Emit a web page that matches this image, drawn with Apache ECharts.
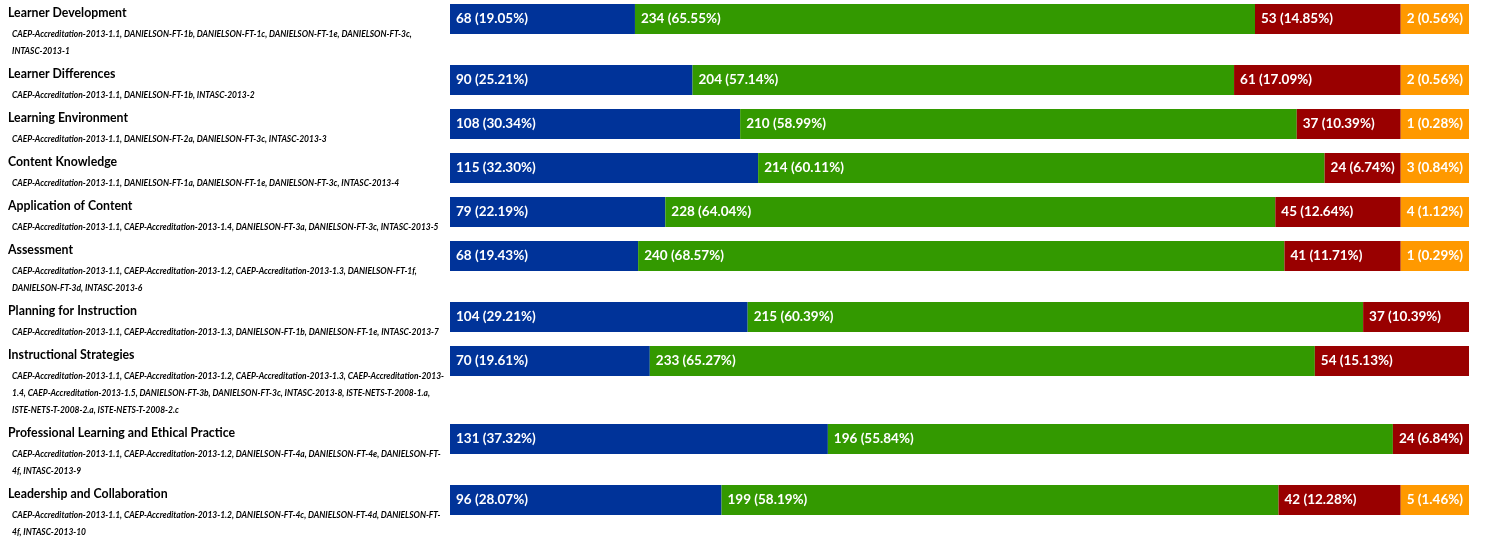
<!DOCTYPE html>
<html>
<head>
<meta charset="utf-8">
<script src="https://cdn.jsdelivr.net/npm/echarts@6/dist/echarts.min.js"></script>
<style>
html,body{margin:0;padding:0;background:#fff;}
#chart{width:1485px;height:537px;}
</style>
</head>
<body>
<div id="chart"></div>
<script>
// ---------- data ----------
const categories = [
  "Learner Development",
  "Learner Differences",
  "Learning Environment",
  "Content Knowledge",
  "Application of Content",
  "Assessment",
  "Planning for Instruction",
  "Instructional Strategies",
  "Professional Learning and Ethical Practice",
  "Leadership and Collaboration"
];
const standards = [
  "CAEP-Accreditation-2013-1.1, DANIELSON-FT-1b, DANIELSON-FT-1c, DANIELSON-FT-1e, DANIELSON-FT-3c,\nINTASC-2013-1",
  "CAEP-Accreditation-2013-1.1, DANIELSON-FT-1b, INTASC-2013-2",
  "CAEP-Accreditation-2013-1.1, DANIELSON-FT-2a, DANIELSON-FT-3c, INTASC-2013-3",
  "CAEP-Accreditation-2013-1.1, DANIELSON-FT-1a, DANIELSON-FT-1e, DANIELSON-FT-3c, INTASC-2013-4",
  "CAEP-Accreditation-2013-1.1, CAEP-Accreditation-2013-1.4, DANIELSON-FT-3a, DANIELSON-FT-3c, INTASC-2013-5",
  "CAEP-Accreditation-2013-1.1, CAEP-Accreditation-2013-1.2, CAEP-Accreditation-2013-1.3, DANIELSON-FT-1f,\nDANIELSON-FT-3d, INTASC-2013-6",
  "CAEP-Accreditation-2013-1.1, CAEP-Accreditation-2013-1.3, DANIELSON-FT-1b, DANIELSON-FT-1e, INTASC-2013-7",
  "CAEP-Accreditation-2013-1.1, CAEP-Accreditation-2013-1.2, CAEP-Accreditation-2013-1.3, CAEP-Accreditation-2013-\n1.4, CAEP-Accreditation-2013-1.5, DANIELSON-FT-3b, DANIELSON-FT-3c, INTASC-2013-8, ISTE-NETS-T-2008-1.a,\nISTE-NETS-T-2008-2.a, ISTE-NETS-T-2008-2.c",
  "CAEP-Accreditation-2013-1.1, CAEP-Accreditation-2013-1.2, DANIELSON-FT-4a, DANIELSON-FT-4e, DANIELSON-FT-\n4f, INTASC-2013-9",
  "CAEP-Accreditation-2013-1.1, CAEP-Accreditation-2013-1.2, DANIELSON-FT-4c, DANIELSON-FT-4d, DANIELSON-FT-\n4f, INTASC-2013-10"
];
const level1Counts = [68, 90, 108, 115, 79, 68, 104, 70, 131, 96];
const level1Pct    = [19.05, 25.21, 30.34, 32.30, 22.19, 19.43, 29.21, 19.61, 37.32, 28.07];
const level2Counts = [234, 204, 210, 214, 228, 240, 215, 233, 196, 199];
const level2Pct    = [65.55, 57.14, 58.99, 60.11, 64.04, 68.57, 60.39, 65.27, 55.84, 58.19];
const level3Counts = [53, 61, 37, 24, 45, 41, 37, 54, 24, 42];
const level3Pct    = [14.85, 17.09, 10.39, 6.74, 12.64, 11.71, 10.39, 15.13, 6.84, 12.28];
const level4Counts = [2, 2, 1, 3, 4, 1, null, null, null, 5];
const level4Pct    = [0.56, 0.56, 0.28, 0.84, 1.12, 0.29, null, null, null, 1.46];
const seriesNames  = ["Level 1", "Level 2", "Level 3", "Level 4"];

// ---------- styling / layout ----------
const colors = ["#003399", "#339900", "#990000", "#ff9900"];
const BAR_LEFT = 450, BAR_W = 1019, BAR_H = 30, FIRST_TOP = 4, ROW_BASE = 44, LINE_H = 17;
const LABEL_FONT_SIZE = 13.5, LABEL_PAD = 6;
const FONT = 'Lato, "DejaVu Sans", sans-serif';

const counts = [level1Counts, level2Counts, level3Counts, level4Counts];
const pcts = [level1Pct, level2Pct, level3Pct, level4Pct];

function labelText(c, p) { return c + ' (' + p.toFixed(2) + '%)'; }

const mctx = document.createElement('canvas').getContext('2d');
mctx.font = 'bold ' + LABEL_FONT_SIZE + 'px ' + FONT;
function textW(t) { return mctx.measureText(t).width; }

// segment widths: each segment at least as wide as its label, remaining space shared
// like an auto table layout (min width + scaled excess of percentage width)
function segmentShares(row) {
  const idx = [], mins = [], targets = [];
  for (let s = 0; s < 4; s++) {
    if (counts[s][row] == null) continue;
    idx.push(s);
    mins.push(textW(labelText(counts[s][row], pcts[s][row])) + 2 * LABEL_PAD);
    targets.push(pcts[s][row] / 100 * BAR_W);
  }
  const sumMin = mins.reduce((a, b) => a + b, 0);
  const excess = targets.map((t, i) => Math.max(0, t - mins[i]));
  const sumEx = excess.reduce((a, b) => a + b, 0);
  const k = sumEx > 0 ? (BAR_W - sumMin) / sumEx : 0;
  const out = [null, null, null, null];
  idx.forEach((s, i) => { out[s] = (mins[i] + excess[i] * k) / BAR_W * 100; });
  return out;
}

const grids = [], xAxes = [], yAxes = [], series = [], graphics = [];
let rowTop = FIRST_TOP;
categories.forEach((cat, r) => {
  const lines = standards[r].split('\n').length;
  grids.push({ left: BAR_LEFT, width: BAR_W, top: rowTop, height: BAR_H, containLabel: false });
  xAxes.push({ gridIndex: r, type: 'value', min: 0, max: 100, show: false });
  yAxes.push({ gridIndex: r, type: 'category', data: [cat], show: false });
  const shares = segmentShares(r);
  for (let s = 0; s < 4; s++) {
    if (shares[s] == null) continue;
    const c = counts[s][r], p = pcts[s][r];
    series.push({
      name: seriesNames[s],
      type: 'bar',
      stack: 'row' + r,
      xAxisIndex: r, yAxisIndex: r,
      barWidth: BAR_H,
      itemStyle: { color: colors[s] },
      silent: true,
      animation: false,
      label: {
        show: true,
        position: 'insideLeft',
        distance: LABEL_PAD,
        color: '#fff',
        fontFamily: FONT,
        fontWeight: 'bold',
        fontSize: LABEL_FONT_SIZE,
        formatter: labelText(c, p)
      },
      data: [shares[s]]
    });
  }
  graphics.push({
    type: 'text', left: 8, top: rowTop + 3,
    style: { text: cat, font: 'bold 12.3px ' + FONT, fill: '#000' }
  });
  graphics.push({
    type: 'text', left: 12, top: rowTop + 21.5,
    style: { text: standards[r], font: 'italic bold 8.45px ' + FONT, fill: '#000', lineHeight: LINE_H }
  });
  rowTop += ROW_BASE + LINE_H * (lines - 1);
});

const chart = echarts.init(document.getElementById('chart'), null, { renderer: 'canvas' });
chart.setOption({
  animation: false,
  grid: grids,
  xAxis: xAxes,
  yAxis: yAxes,
  series: series,
  graphic: graphics,
  tooltip: { show: false }
});
</script>
</body>
</html>
